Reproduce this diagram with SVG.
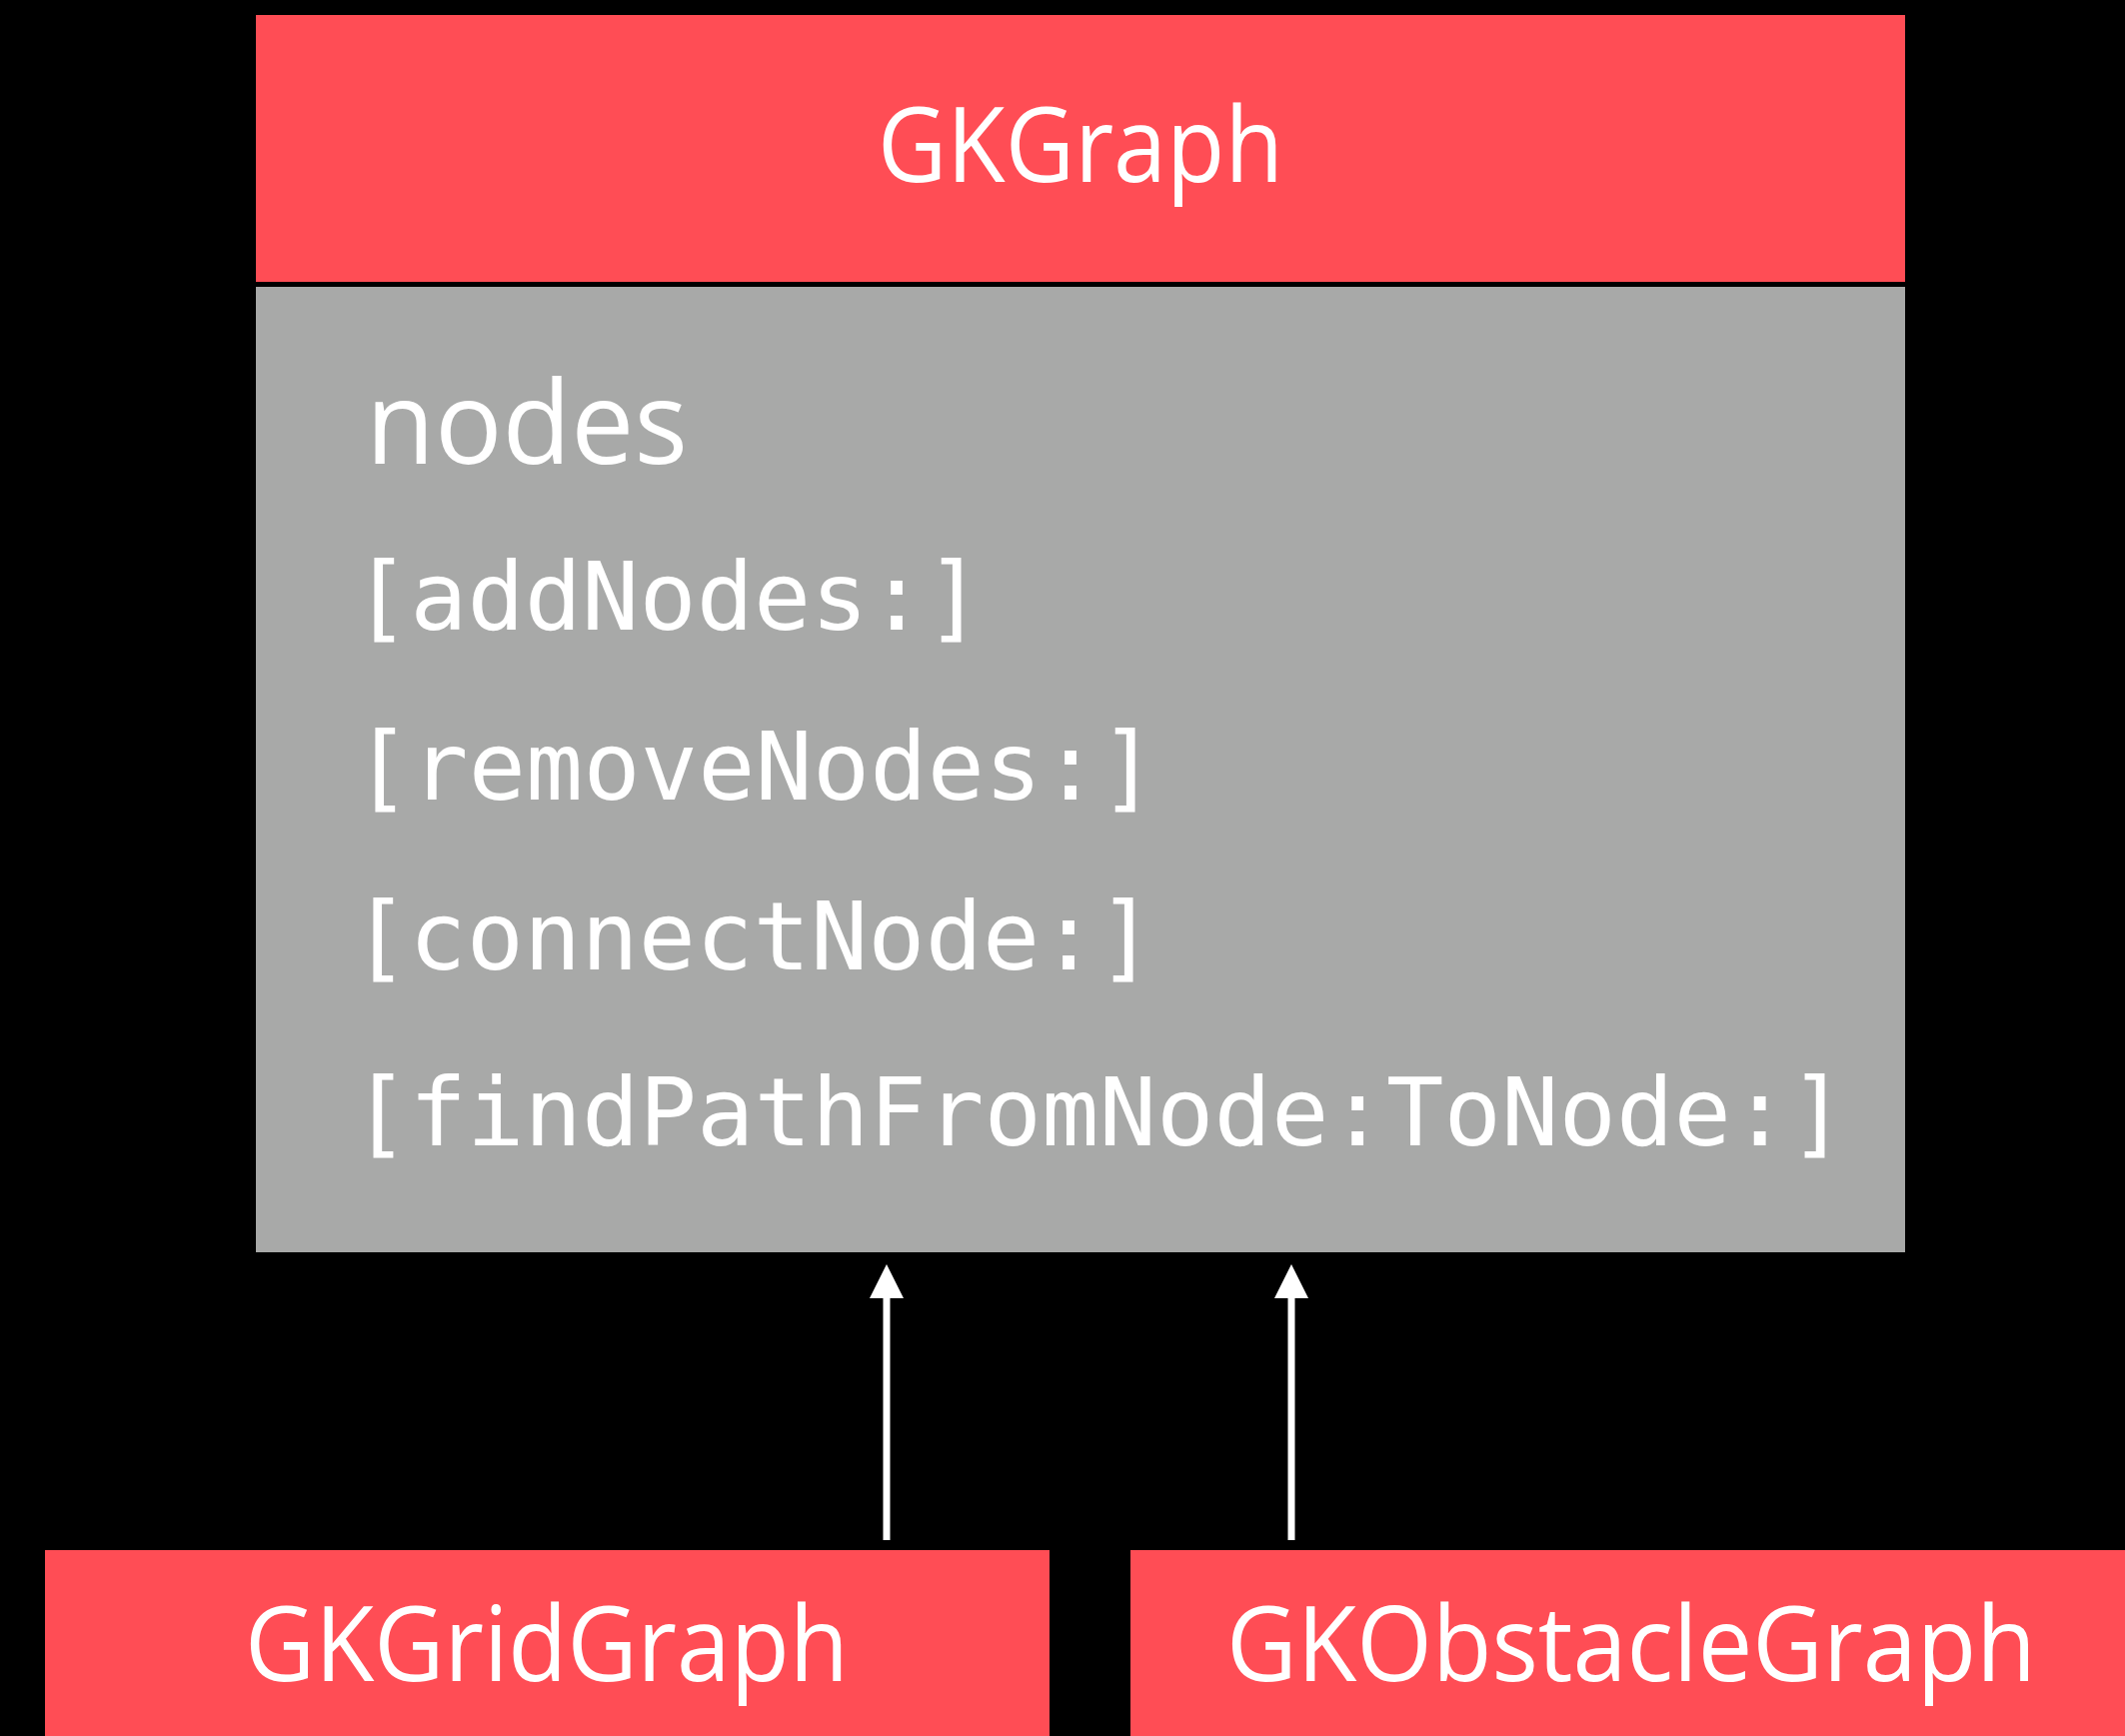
<svg xmlns="http://www.w3.org/2000/svg" width="2126" height="1737" viewBox="0 0 2126 1737">
  <style>
    .cls { fill: #FF4D55; }
    .body { fill: #A8A9A8; }
    .title { font-family: "Open Sans", "Noto Sans", sans-serif; font-size: 105px; fill: #FFFFFF; text-anchor: middle; }
    .prop { font-family: "Open Sans", "Noto Sans", sans-serif; font-size: 116px; fill: #FFFFFF; }
    .method { font-family: "DejaVu Sans Mono", "Liberation Mono", monospace; font-size: 95px; fill: #FFFFFF; }
    .edge { stroke: #FFFFFF; stroke-width: 7; fill: none; }
  </style>
  <defs>
    <marker id="head" markerUnits="userSpaceOnUse" viewBox="0 0 34 34" refX="0" refY="17" markerWidth="34" markerHeight="34" orient="auto">
      <path d="M0,0 L34,17 L0,34 Z" fill="#FFFFFF"/>
    </marker>
  </defs>

  <rect x="0" y="0" width="2126" height="1737" fill="#000000"/>

  <!-- Base class: title bar plus members -->
  <g id="GKGraph">
    <rect class="cls" x="256" y="15" width="1650" height="267"/>
    <text class="title" x="1081" y="182" textLength="406" lengthAdjust="spacingAndGlyphs">GKGraph</text>
    <rect class="body" x="256" y="287" width="1650" height="966"/>
    <text class="prop" x="366" y="464" textLength="322" lengthAdjust="spacingAndGlyphs">nodes</text>
    <text class="method" x="353" y="630" textLength="630" lengthAdjust="spacing">[addNodes:]</text>
    <text class="method" x="354" y="800" textLength="803" lengthAdjust="spacing">[removeNodes:]</text>
    <text class="method" x="352" y="970" textLength="803" lengthAdjust="spacing">[connectNode:]</text>
    <text class="method" x="352" y="1146" textLength="1495" lengthAdjust="spacingAndGlyphs">[findPathFromNode:ToNode:]</text>
  </g>

  <!-- Subclasses -->
  <g id="GKGridGraph">
    <rect class="cls" x="45" y="1551" width="1005" height="186"/>
    <text class="title" x="547" y="1682" textLength="604" lengthAdjust="spacingAndGlyphs">GKGridGraph</text>
  </g>
  <g id="GKObstacleGraph">
    <rect class="cls" x="1131" y="1551" width="995" height="186"/>
    <text class="title" x="1632" y="1682" textLength="810" lengthAdjust="spacingAndGlyphs">GKObstacleGraph</text>
  </g>

  <!-- Inheritance connectors -->
  <g id="connectors">
    <line class="edge" x1="887" y1="1541" x2="887" y2="1299" marker-end="url(#head)"/>
    <line class="edge" x1="1292" y1="1541" x2="1292" y2="1299" marker-end="url(#head)"/>
  </g>
</svg>
